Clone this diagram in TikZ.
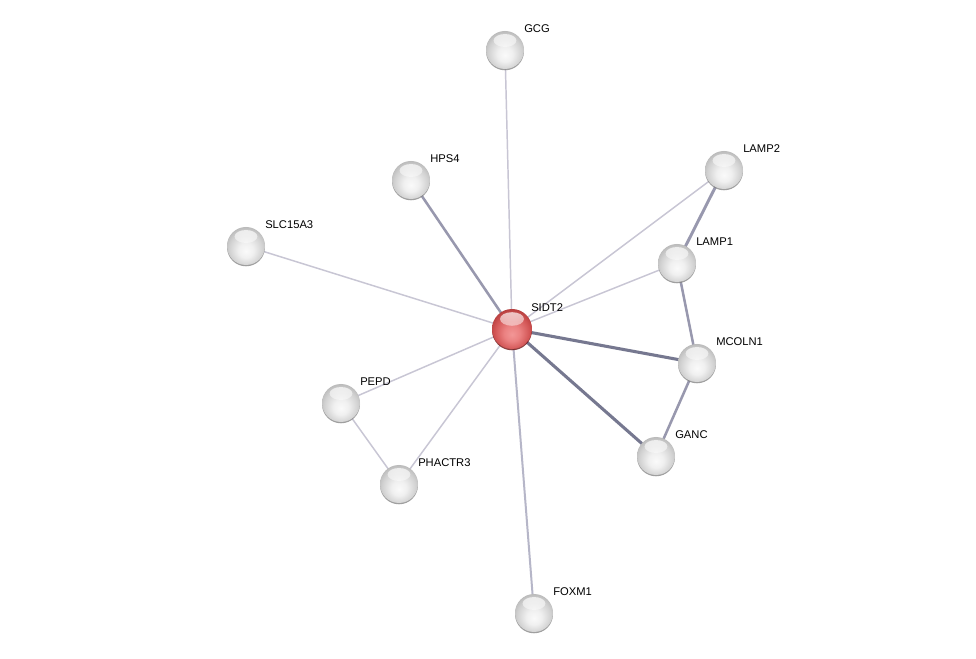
\documentclass[tikz,border=0pt]{standalone}
\usepackage{fontspec}
\setmainfont{Liberation Sans}
\usetikzlibrary{fadings}
\definecolor{elc}{RGB}{200,198,212}
\definecolor{emc}{RGB}{152,152,174}
\definecolor{efc}{RGB}{182,182,200}
\definecolor{etc}{RGB}{118,120,144}
\pgfdeclareradialshading{gsphere}{\pgfpoint{0bp}{-7bp}}{color(0bp)=(white!98!black); color(10bp)=(white!94!black); color(22bp)=(white!82!black); color(32bp)=(white!68!black); color(50bp)=(white!68!black)}
\pgfdeclareradialshading{rsphere}{\pgfpoint{0bp}{-7bp}}{color(0bp)=(red!38!white!95!black); color(10bp)=(red!45!white!92!black); color(22bp)=(red!60!white!82!black); color(32bp)=(red!70!white!65!black); color(50bp)=(red!70!white!65!black)}
\begin{document}
\begin{tikzpicture}[x=0.75pt,y=-0.75pt,
  hl/.style={path picture={\fill[white,path fading=south,opacity=0.75] (path picture bounding box.center) ++(0,0.5*#1) ellipse (0.6*#1 and 0.34*#1);}},
  prot/.style={circle,minimum size=28.5pt,inner sep=0pt,shading=gsphere,hl=14.25pt},
  seed/.style={circle,minimum size=30pt,inner sep=0pt,shading=rsphere,hl=15pt},
  shad/.style={fill=black!50,opacity=0.75},
  lab/.style={anchor=west,inner sep=0pt,font=\fontsize{8.4pt}{10pt}\selectfont},
  elight/.style={draw=elc,line width=1.1pt},
  efox/.style={draw=efc,line width=1.5pt},
  emed/.style={draw=emc,line width=1.9pt},
  ethick/.style={draw=etc,line width=2.3pt}]
\useasboundingbox (0,0) rectangle (976,659);
\fill[white] (0,0) rectangle (976,659);
\coordinate (cGCG) at (505,50);
\coordinate (cHPS4) at (411,180);
\coordinate (cLAMP2) at (724,170);
\coordinate (cSLC) at (246,246);
\coordinate (cLAMP1) at (677,263);
\coordinate (cSIDT2) at (512,329);
\coordinate (cMCOLN1) at (697,363);
\coordinate (cPEPD) at (341,403);
\coordinate (cGANC) at (656,456);
\coordinate (cPHACTR3) at (399,484);
\coordinate (cFOXM1) at (534,613);
% edges
\draw[elight] (cSIDT2) -- (cGCG);
\draw[elight] (cSIDT2) -- (cSLC);
\draw[elight] (cSIDT2) -- (cLAMP2);
\draw[elight] (cSIDT2) -- (cLAMP1);
\draw[elight] (cSIDT2) -- (cPEPD);
\draw[elight] (cSIDT2) -- (cPHACTR3);
\draw[elight] (cPEPD) -- (cPHACTR3);
\draw[emed] (cSIDT2) -- (cHPS4);
\draw[efox] (cSIDT2) -- (cFOXM1);
\draw[emed] (cLAMP1) -- (cMCOLN1);
\draw[emed] (cMCOLN1) -- (cGANC);
\draw[emed,line width=2.2pt] (cLAMP2) -- (cLAMP1);
\draw[ethick] (cSIDT2) -- (cMCOLN1);
\draw[ethick] (cSIDT2) -- (cGANC);
% shadows
\foreach \c in {cGCG,cHPS4,cLAMP2,cSLC,cLAMP1,cMCOLN1,cPEPD,cGANC,cPHACTR3,cFOXM1}
  \fill[shad] (\c) ++(0,1.3) circle (14.25pt);
\fill[shad,fill=red!40!black] (cSIDT2) ++(0,1.3) circle (15pt);
% nodes
\node[prot] (GCG) at (cGCG) {};
\node[prot] (HPS4) at (cHPS4) {};
\node[prot] (LAMP2) at (cLAMP2) {};
\node[prot] (SLC) at (cSLC) {};
\node[prot] (LAMP1) at (cLAMP1) {};
\node[seed] (SIDT2) at (cSIDT2) {};
\node[prot] (MCOLN1) at (cMCOLN1) {};
\node[prot] (PEPD) at (cPEPD) {};
\node[prot] (GANC) at (cGANC) {};
\node[prot] (PHACTR3) at (cPHACTR3) {};
\node[prot] (FOXM1) at (cFOXM1) {};
% labels
\node[lab] (lGCG) at (524,29) {GCG};
\node[lab] (lHPS4) at (430,159) {HPS4};
\node[lab] (lLAMP2) at (743,149) {LAMP2};
\node[lab] (lSLC) at (265,225) {SLC15A3};
\node[lab] (lLAMP1) at (696,242) {LAMP1};
\node[lab] (lSIDT2) at (531,308) {SIDT2};
\node[lab] (lMCOLN1) at (716,342) {MCOLN1};
\node[lab] (lPEPD) at (360,382) {PEPD};
\node[lab] (lGANC) at (675,435) {GANC};
\node[lab] (lPHACTR3) at (418,463) {PHACTR3};
\node[lab] (lFOXM1) at (553,592) {FOXM1};
\end{tikzpicture}
\end{document}
